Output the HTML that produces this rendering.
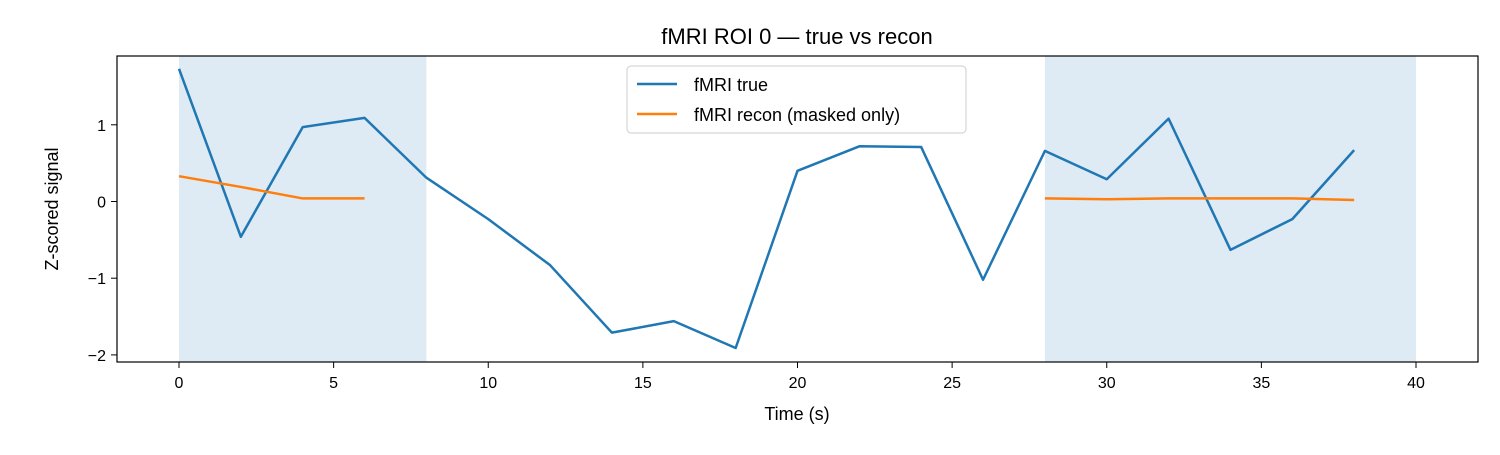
<!DOCTYPE html>
<html><head><meta charset="utf-8"><style>
body{margin:0;background:#fff}
svg text{font-family:"Liberation Sans","DejaVu Sans",sans-serif;fill:#000}
</style></head><body>
<svg id="chart" width="1500" height="450">
<text x="797" y="44" font-size="22" text-anchor="middle">fMRI ROI 0 — true vs recon</text>
<g id="shade"></g>
<g id="grid"></g>
<g id="lines"></g>
<rect x="117" y="56" width="1361" height="306" fill="none" stroke="#000" stroke-width="1.2"/>
<text x="797" y="420" font-size="18" text-anchor="middle">Time (s)</text>
<text transform="translate(58,209) rotate(-90)" font-size="18" text-anchor="middle">Z-scored signal</text>
<g>
<rect x="627" y="66" width="339" height="67" rx="4" fill="#fff" fill-opacity="0.8" stroke="#ccc"/>
<line x1="637" y1="84" x2="677" y2="84" stroke="#1f77b4" stroke-width="2.5"/>
<text x="694" y="91" font-size="18">fMRI true</text>
<line x1="637" y1="114" x2="677" y2="114" stroke="#ff7f0e" stroke-width="2.5"/>
<text x="694" y="121" font-size="18">fMRI recon (masked only)</text>
</g>
</svg>
<script>
const times=[0,2,4,6,8,10,12,14,16,18,20,22,24,26,28,30,32,34,36,38];
const trueVals=[1.73,-0.46,0.97,1.09,0.31,-0.23,-0.83,-1.71,-1.56,-1.91,0.40,0.72,0.71,-1.02,0.66,0.29,1.08,-0.63,-0.23,0.67];
const reconSeg1T=[0,2,4,6];
const reconSeg1=[0.33,0.19,0.04,0.04];
const reconSeg2T=[28,30,32,34,36,38];
const reconSeg2=[0.04,0.03,0.04,0.04,0.04,0.02];
const maskStarts=[0,28];
const maskEnds=[8,40];
const xTicks=[0,5,10,15,20,25,30,35,40];
const yTicks=[-2,-1,0,1];
const sx=v=>179+v*30.925;
const sy=v=>201.5-v*76.7;
const NS="http://www.w3.org/2000/svg";
function mk(tag,attrs,parent){const e=document.createElementNS(NS,tag);for(const k in attrs)e.setAttribute(k,attrs[k]);parent.appendChild(e);return e;}
const shade=document.getElementById('shade');
maskStarts.forEach((s,i)=>{
  const r=mk('rect',{x:sx(s),y:56,width:sx(maskEnds[i])-sx(s),height:306,fill:'#1f77b4','fill-opacity':0.15},shade);
  
  
});
const grid=document.getElementById('grid');
xTicks.forEach(t=>{
  const l=mk('line',{x1:sx(t),x2:sx(t),y1:362,y2:368,stroke:'#000'},grid);
  
  
  const tx=mk('text',{x:sx(t),y:388,'font-size':16,'text-anchor':'middle'},grid);tx.textContent=t;
  
  
});
yTicks.forEach(t=>{
  const l=mk('line',{x1:111,x2:117,y1:sy(t),y2:sy(t),stroke:'#000'},grid);
  
  
  const tx=mk('text',{x:106,y:sy(t)+6,'font-size':16,'text-anchor':'end'},grid);tx.textContent=t<0?'\u2212'+(-t):t;
  
  
});
const lines=document.getElementById('lines');
function poly(ts,vs,color,name){
  const p=mk('polyline',{points:ts.map((t,i)=>sx(t)+','+sy(vs[i])).join(' '),fill:'none',stroke:color,'stroke-width':2.5,'stroke-linejoin':'round'},lines);
  
  
}
poly(times,trueVals,'#1f77b4','true-line');
poly(reconSeg1T,reconSeg1,'#ff7f0e','recon-line-1');
poly(reconSeg2T,reconSeg2,'#ff7f0e','recon-line-2');
</script>
</body></html>
